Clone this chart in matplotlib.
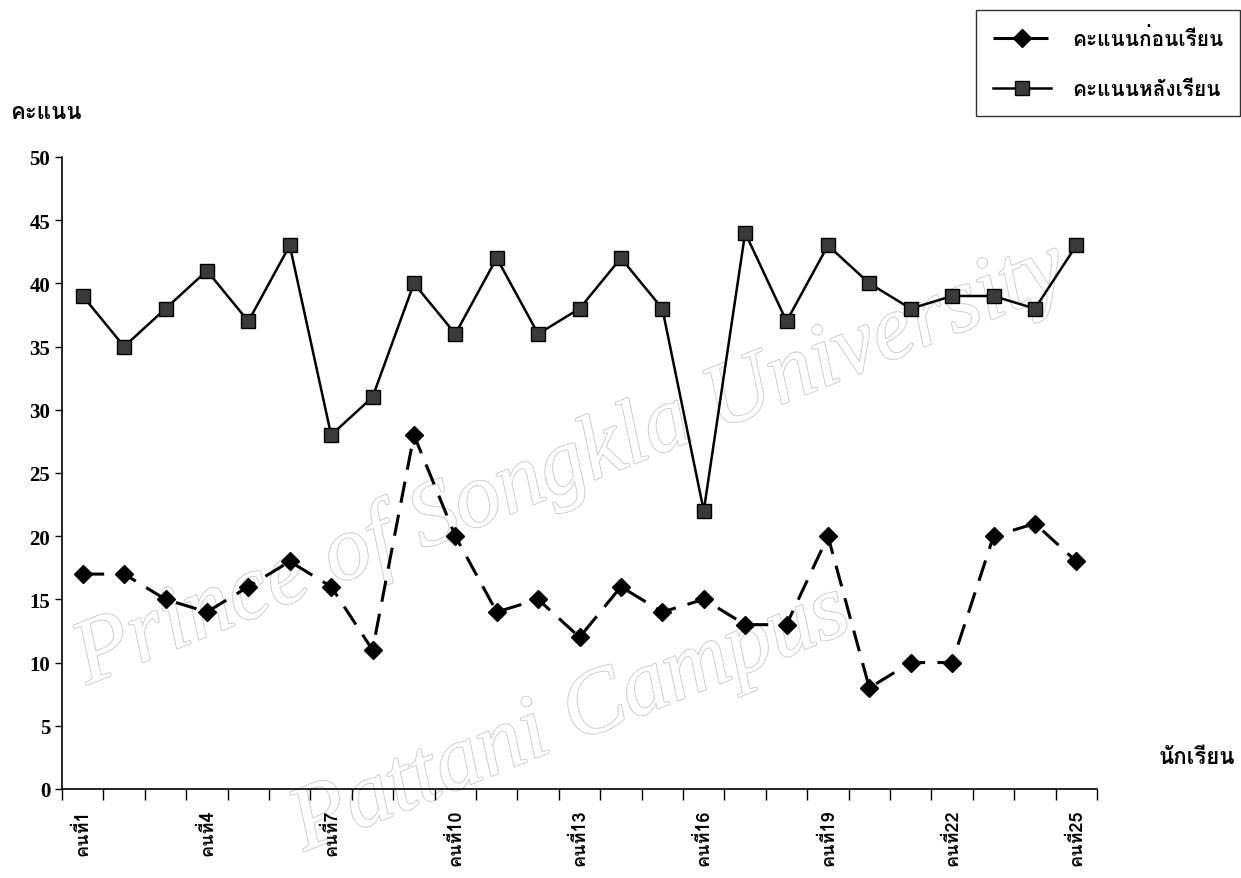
import matplotlib
matplotlib.use("Agg")
import matplotlib.pyplot as plt
import matplotlib.patheffects as pe
from matplotlib import font_manager as fm
from matplotlib.ft2font import FT2Font

# คะแนนก่อนเรียน / หลังเรียน ของนักเรียน 25 คน
students = [f"คนที่{i}" for i in range(1, 26)]
pre_scores = [17, 17, 15, 14, 16, 18, 16, 11, 28, 20, 14, 15, 12,
              16, 14, 15, 13, 13, 20, 8, 10, 10, 20, 21, 18]
post_scores = [39, 35, 38, 41, 37, 43, 28, 31, 40, 36, 42, 36, 38,
               42, 38, 22, 44, 37, 43, 40, 38, 39, 39, 38, 43]
y_ticks = [0, 5, 10, 15, 20, 25, 30, 35, 40, 45, 50]
legend_labels = ["คะแนนก่อนเรียน", "คะแนนหลังเรียน"]


def find_thai_font():
    """หา font ที่มีตัวอักษรไทย"""
    found = []
    for f in fm.fontManager.ttflist:
        try:
            if FT2Font(f.fname).get_char_index(ord("ก")):
                found.append(f.name)
        except Exception:
            pass
    for pref in ["Loma", "Garuda", "Norasi", "Tlwg", "Noto Serif Thai", "Noto Sans Thai"]:
        for name in found:
            if pref in name:
                return name
    return found[0] if found else "DejaVu Sans"


thai = find_thai_font()
thai_family = [thai, "DejaVu Sans"]
num_family = ["Liberation Serif", "DejaVu Serif"]

fig = plt.figure(figsize=(12.41, 8.79), dpi=100)

# ลายน้ำ (อยู่ด้านหลังกราฟ)
wm = dict(family=["Liberation Serif", "DejaVu Serif"], style="italic",
          color="white", zorder=-5,
          path_effects=[pe.withStroke(linewidth=1.4, foreground="#cfcfcf")])
fig.text(0.46, 0.47, "Prince of Songkla University", fontsize=66,
         rotation=22, ha="center", va="center", **wm)
fig.text(0.46, 0.18, "Pattani Campus", fontsize=66,
         rotation=22, ha="center", va="center", **wm)

ax = fig.add_axes([0.050, 0.1013, 0.834, 0.7190])
ax.patch.set_alpha(0)

x = list(range(len(students)))
ax.plot(x, pre_scores, color="black", linestyle=(0, (7, 4)), linewidth=2.2,
        marker="D", markersize=9, markerfacecolor="black", markeredgecolor="black",
        label=legend_labels[0])
ax.plot(x, post_scores, color="black", linestyle="-", linewidth=1.8,
        marker="s", markersize=10, markerfacecolor="#3a3a3a", markeredgecolor="black",
        label=legend_labels[1])

ax.set_xlim(-0.5, len(students) - 0.5)
ax.set_ylim(0, 50)
ax.set_yticks(y_ticks)
ax.set_yticklabels([str(v) for v in y_ticks], family=num_family,
                   fontsize=15, fontweight="bold")

# ขีดแบ่งหมวดหมู่ (แบบ Excel) และป้ายทุก ๆ 3 คน
ax.set_xticks([i - 0.5 for i in range(len(students) + 1)])
ax.set_xticklabels([])
ax.set_xticks(x[::3], minor=True)
ax.set_xticklabels(students[::3], minor=True, rotation=90, family=thai_family,
                   fontsize=13, fontweight="bold")
ax.tick_params(axis="x", which="major", direction="out", length=8, width=1)
ax.tick_params(axis="x", which="minor", length=0, pad=14)
ax.tick_params(axis="y", direction="out", length=5, width=1)

for side in ["top", "right"]:
    ax.spines[side].set_visible(False)
ax.spines["left"].set_linewidth(1.2)
ax.spines["bottom"].set_linewidth(1.2)

fig.text(0.008, 0.872, "คะแนน", family=thai_family, fontsize=16,
         fontweight="bold", ha="left", va="center")
fig.text(0.995, 0.138, "นักเรียน", family=thai_family, fontsize=16,
         fontweight="bold", ha="right", va="center")

leg = fig.legend(loc="upper right", bbox_to_anchor=(0.999, 0.987),
                 prop={"family": thai_family, "size": 15, "weight": "bold"},
                 frameon=True, fancybox=False, edgecolor="black",
                 handlelength=2.8, borderaxespad=0.0, labelspacing=1.5,
                 borderpad=0.8, handletextpad=1.0)
leg.get_frame().set_linewidth(1.0)

fig.savefig("out.png", dpi=100)
